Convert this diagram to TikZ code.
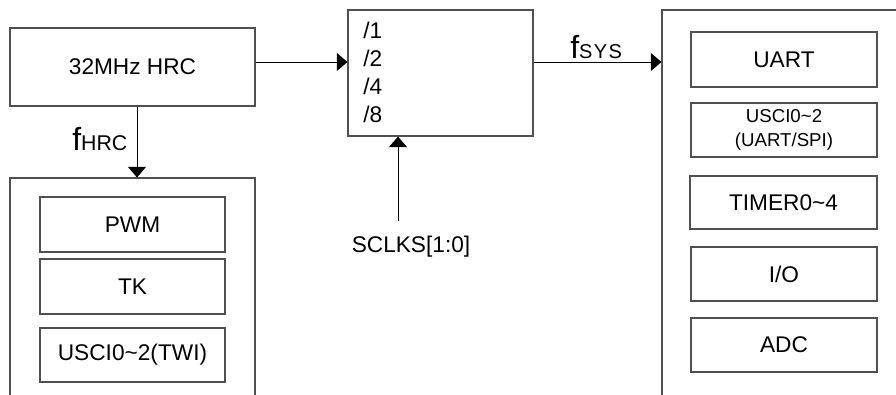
\documentclass[tikz,border=0pt]{standalone}
\usepackage{fontspec}
\setmainfont{Liberation Sans}
\usetikzlibrary{arrows.meta}
\definecolor{boxgray}{HTML}{505050}
\begin{document}
\begin{tikzpicture}[x=0.75pt,y=-0.75pt,
  box/.style={draw=boxgray,line width=0.8pt,inner sep=0pt,align=center,
    font=\fontsize{17}{21}\selectfont},
  txt/.style={inner sep=0pt,font=\fontsize{17}{21}\selectfont},
  arr/.style={line width=0.75pt,-{Triangle[width=13.5pt,length=8pt]}},
  ln/.style={line width=0.75pt}]
\useasboundingbox (0,0) rectangle (896,394);
\clip (0,0) rectangle (896,394);
% main blocks
\node[box,minimum width=183.75pt,minimum height=58.5pt] (hrc) at (132.5,67) {32MHz HRC};
\node[box,minimum width=138.75pt,minimum height=94.5pt] (div) at (440.5,73) {};
\node[box,minimum width=253.5pt,minimum height=367.5pt] (sys) at (831,255) {};
\node[box,minimum width=183.75pt,minimum height=241.5pt] (hrcbus) at (132.5,339) {};
% divider texts
\node[txt,anchor=base west] (d1) at (363,38) {/1};
\node[txt,anchor=base west] (d2) at (363,66) {/2};
\node[txt,anchor=base west] (d3) at (363,94) {/4};
\node[txt,anchor=base west] (d4) at (363,122) {/8};
% left peripherals
\node[box,minimum width=138.75pt,minimum height=41.25pt] (pwm) at (132.5,224.5) {PWM};
\node[box,minimum width=138.75pt,minimum height=41.25pt] (tk) at (132.5,286.5) {TK};
\node[box,minimum width=138.75pt,minimum height=40.5pt] (twi) at (132.5,355) {USCI0\textasciitilde2(TWI)};
% right peripherals
\node[box,minimum width=139.5pt,minimum height=41.25pt] (uart) at (784,59.5) {UART};
\node[box,minimum width=139.5pt,minimum height=40.5pt,font=\fontsize{14}{18}\selectfont] (usci) at (784,130) {USCI0\textasciitilde2\\(UART/SPI)};
\node[box,minimum width=140.25pt,minimum height=39.75pt] (timer) at (783.5,202.5) {TIMER0\textasciitilde4};
\node[box,minimum width=139.5pt,minimum height=40.5pt] (io) at (784,274) {I/O};
\node[box,minimum width=139.5pt,minimum height=40.5pt] (adc) at (784,345) {ADC};
% connectors
\coordinate (lvl) at (0,62);
\coordinate (hx) at (137,0);
\coordinate (sc) at (398,221);
\draw[arr] (hrc.east |- lvl) -- (div.west |- lvl);
\draw[arr] (div.east |- lvl) -- (sys.west |- lvl);
\draw[arr] (hrc.south -| hx) -- (hrcbus.north -| hx);
\draw[arr] (sc) -- (sc |- div.south);
% labels
\node[inner sep=0pt,anchor=base west] (fhrc) at (72,150) {{\fontsize{24}{24}\selectfont f}{\fontsize{16}{16}\selectfont HRC}};
\node[inner sep=0pt,anchor=base west] (fsys) at (570,58) {{\fontsize{24}{24}\selectfont f}{\fontsize{15}{15}\selectfont S\kern1pt Y\kern1pt S}};
\node[txt,anchor=base] (sclks) at (411,252) {SCLKS[1:0]};
\end{tikzpicture}
\end{document}
